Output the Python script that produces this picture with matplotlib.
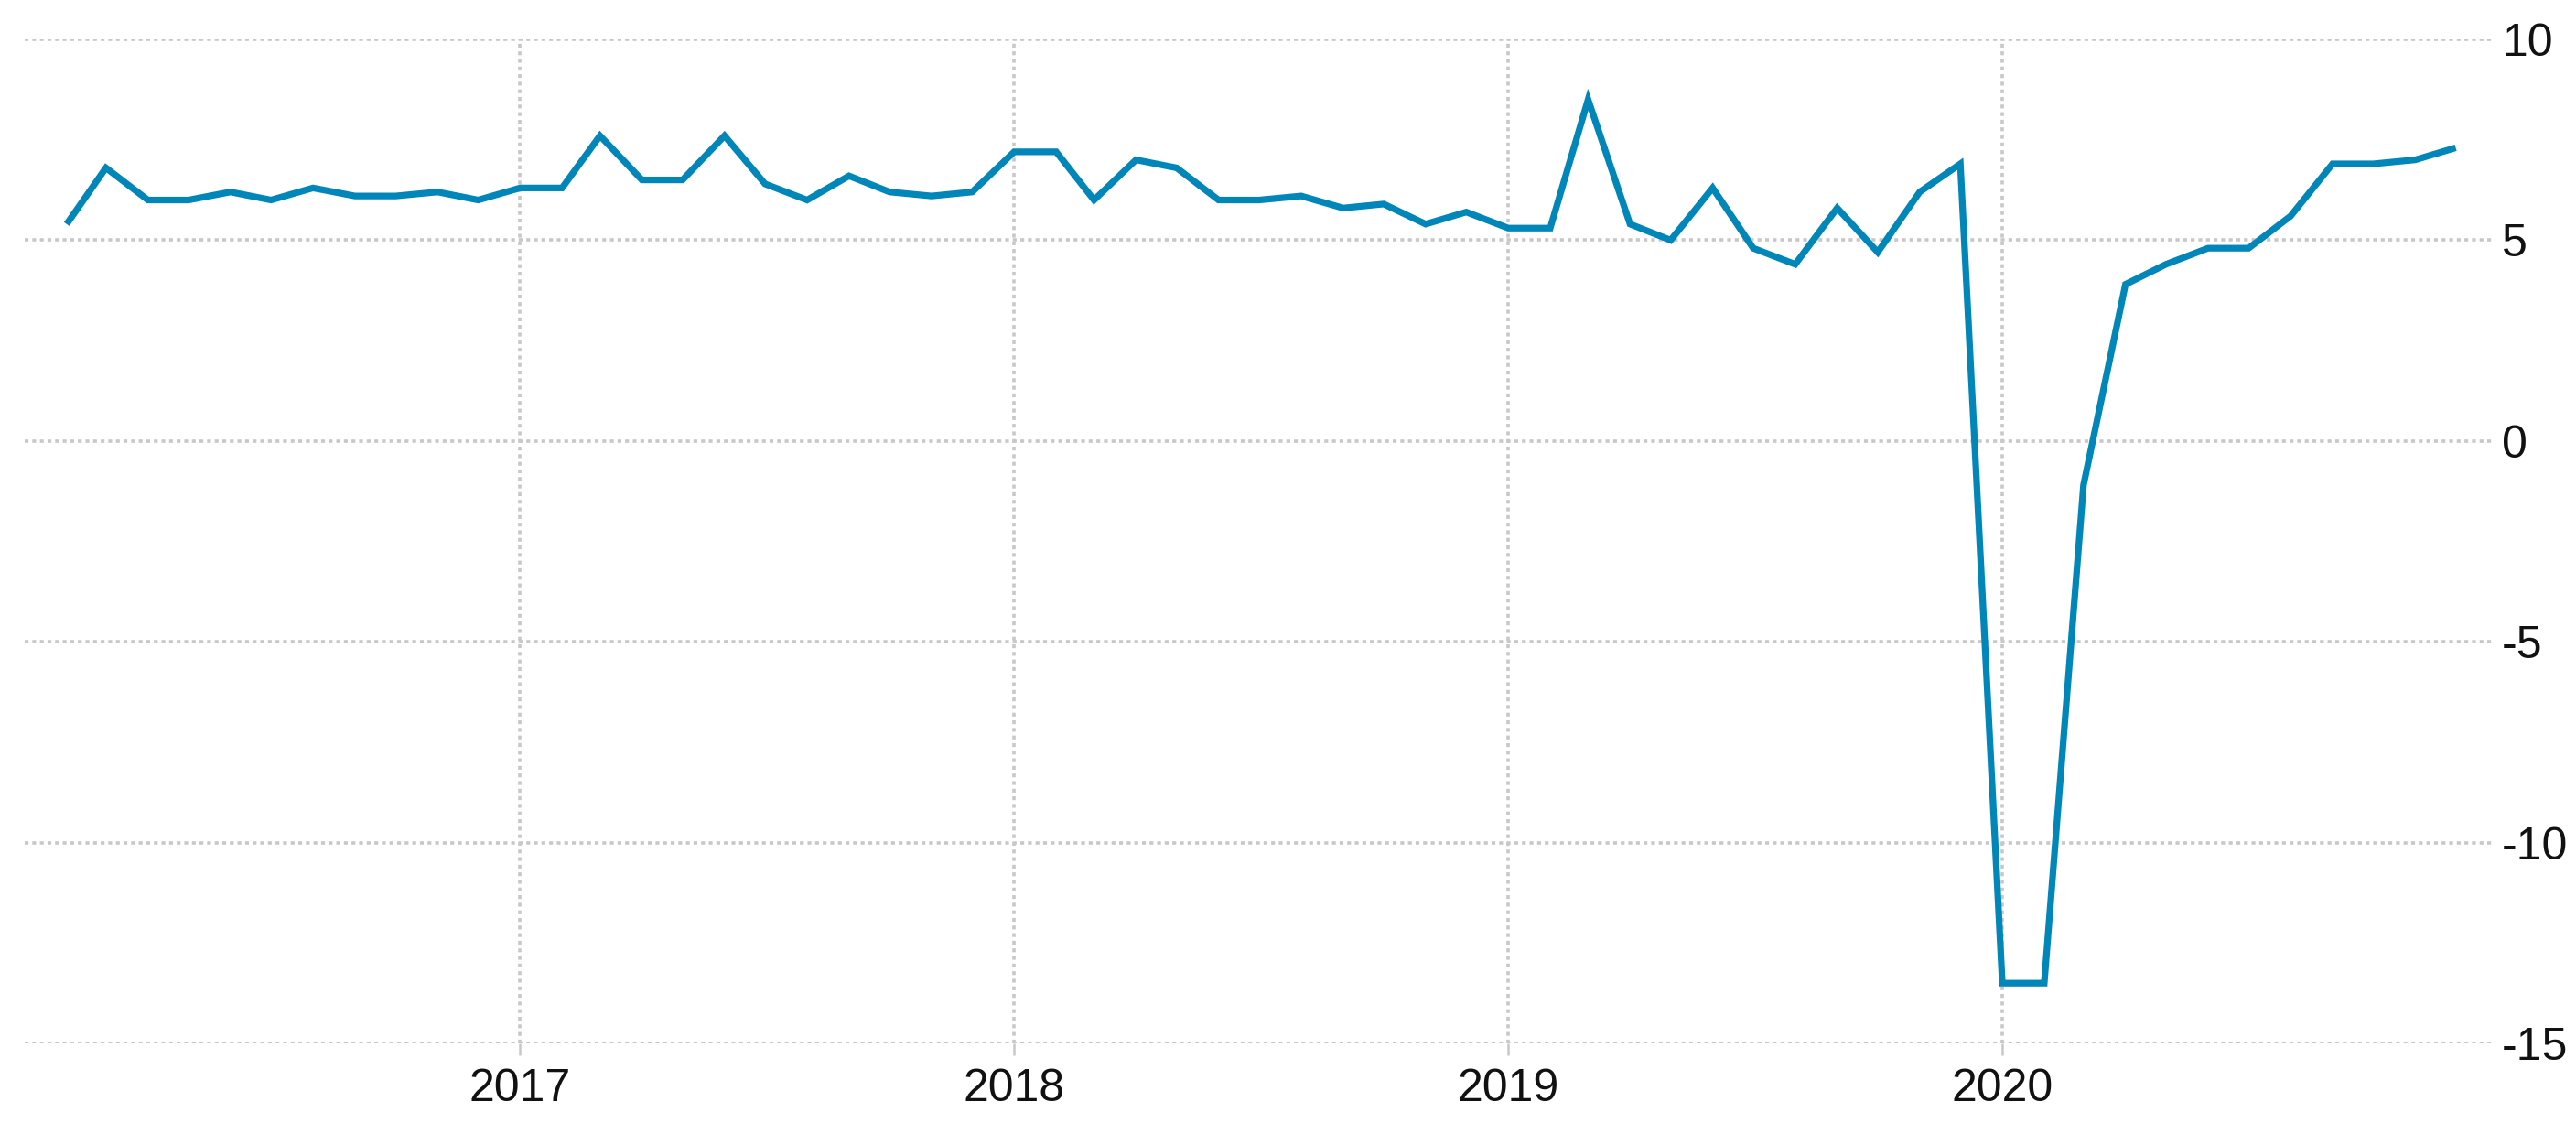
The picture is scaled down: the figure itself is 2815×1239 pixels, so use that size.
import matplotlib
matplotlib.use("Agg")
import matplotlib.pyplot as plt
import matplotlib.dates as mdates
import numpy as np
from datetime import date

plt.rcParams["axes.unicode_minus"] = False

# Monthly data, Feb 2016 .. Dec 2020
start_year, start_month = 2016, 2
values = [
    # 2016 (Feb-Dec)
    5.4, 6.8, 6.0, 6.0, 6.2, 6.0, 6.3, 6.1, 6.1, 6.2, 6.0,
    # 2017
    6.3, 6.3, 7.6, 6.5, 6.5, 7.6, 6.4, 6.0, 6.6, 6.2, 6.1, 6.2,
    # 2018
    7.2, 7.2, 6.0, 7.0, 6.8, 6.0, 6.0, 6.1, 5.8, 5.9, 5.4, 5.7,
    # 2019
    5.3, 5.3, 8.5, 5.4, 5.0, 6.3, 4.8, 4.4, 5.8, 4.7, 6.2, 6.9,
    # 2020
    -13.5, -13.5, -1.1, 3.9, 4.4, 4.8, 4.8, 5.6, 6.9, 6.9, 7.0, 7.3,
]
year_ticks = [2017, 2018, 2019, 2020]
y_ticks = [10, 5, 0, -5, -10, -15]

dates = []
y, m = start_year, start_month
for _ in values:
    dates.append(date(y, m, 1))
    m += 1
    if m > 12:
        m = 1
        y += 1

W, H = 2815, 1239
fig = plt.figure(figsize=(W / 100, H / 100), dpi=100)
left, right = 27 / W, 2725 / W
bottom, top = (H - 1140) / H, (H - 43) / H
ax = fig.add_axes([left, bottom, right - left, top - bottom])

line_color = "#0086b8"
grid_color = "#c8c8c8"
text_color = "#111111"
font_family = ["Liberation Sans", "DejaVu Sans"]

ax.plot(dates, values, color=line_color, lw=5.2, solid_joinstyle="miter",
        solid_capstyle="butt", zorder=3)

ax.set_xlim(date(2016, 1, 1), date(2020, 12, 29))
ax.set_ylim(-15, 10)

ax.set_xticks([date(yr, 1, 1) for yr in year_ticks])
ax.xaxis.set_major_formatter(mdates.DateFormatter("%Y"))
ax.set_yticks(y_ticks)
ax.set_yticklabels([str(v) for v in y_ticks])

for s in ax.spines.values():
    s.set_visible(False)

ax.yaxis.tick_right()
ax.tick_params(axis="y", length=0, pad=6.5, labelsize=36, labelcolor=text_color)
ax.tick_params(axis="x", length=9.4, width=1.8, color=grid_color, pad=10,
               labelsize=36, labelcolor=text_color)
for lab in ax.get_xticklabels() + ax.get_yticklabels():
    lab.set_family(font_family)

ax.grid(True, which="major", axis="both", color=grid_color, lw=2.6,
        linestyle=(0, (1.15, 1.15)), zorder=1)
ax.set_axisbelow(True)

fig.savefig("out.png", dpi=100, facecolor="white")
